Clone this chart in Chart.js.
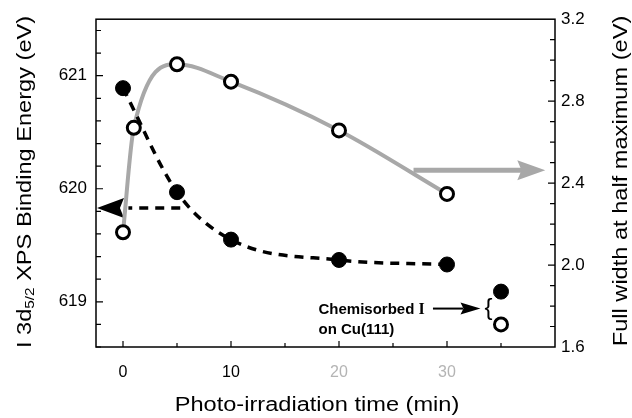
<!DOCTYPE html>
<html>
<head>
<meta charset="utf-8">
<script src="https://cdn.jsdelivr.net/npm/chart.js@4.4.1/dist/chart.umd.min.js"></script>
<style>
  html, body { margin: 0; padding: 0; background: #fff; }
  #wrap { width: 632px; height: 418px; }
</style>
</head>
<body>
<div id="wrap"><canvas id="chart" width="632" height="418"></canvas></div>
<script>
// Values
const timeMin = [0, 5, 10, 20, 30];
const bindingEnergy = [620.89, 619.97, 619.55, 619.37, 619.33];
const fwhmTime = [0, 1, 5, 10, 20, 30];
const fwhm = [2.16, 2.67, 2.98, 2.895, 2.657, 2.347];

// Chemisorbed I on Cu(111) reference values
const chemTime = [35];
const chemEnergy = [619.09];
const chemFwhm = [1.71];

// Tick labels
const xTicks = [0, 10, 20, 30];
const leftTicks = [619, 620, 621];
const rightTicks = [1.6, 2.0, 2.4, 2.8, 3.2];

const FONT = "'Liberation Sans', Arial, sans-serif";
const TITLE_STRETCH = 1.18;

function toPoints(xs, ys) {
    return xs.map((x, i) => ({ x: x, y: ys[i] }));
}

function arrowHead(ctx, tipX, tipY, dir, len, half) {
    ctx.beginPath();
    ctx.moveTo(tipX, tipY);
    ctx.lineTo(tipX - dir * len, tipY - half);
    ctx.lineTo(tipX - dir * len * 0.85, tipY);
    ctx.lineTo(tipX - dir * len, tipY + half);
    ctx.closePath();
    ctx.fill();
}

// draws text pieces centred on 0,0 in the current frame, stretched along the text
function drawStretched(ctx, parts) {
    let total = 0;
    parts.forEach(p => { ctx.font = p.f; p.w = ctx.measureText(p.t).width; total += p.w; });
    ctx.save();
    ctx.scale(TITLE_STRETCH, 1);
    ctx.textBaseline = 'middle';
    ctx.textAlign = 'left';
    let cx = -total / 2;
    parts.forEach(p => { ctx.font = p.f; ctx.fillText(p.t, cx, p.dy || 0); cx += p.w; });
    ctx.restore();
}

/**
 * Frame, inward ticks and axis titles
 */
const frameAndTitles = {
    id: 'frameAndTitles',
    afterDraw(chart) {
        const { ctx, chartArea: a, scales } = chart;
        ctx.save();
        ctx.strokeStyle = '#000';
        ctx.lineWidth = 1.5;
        ctx.strokeRect(a.left, a.top, a.right - a.left, a.bottom - a.top);

        ctx.lineWidth = 1.2;
        ctx.beginPath();
        // x ticks every 5 min
        for (let v = 0; v <= 35; v += 5) {
            const px = scales.x.getPixelForValue(v);
            const len = v % 10 === 0 ? 6 : 4;
            ctx.moveTo(px, a.bottom);
            ctx.lineTo(px, a.bottom - len);
        }
        // left ticks every 0.2 eV
        for (let i = 0; i <= 14; i++) {
            const v = 618.6 + i * 0.2;
            const py = scales.y.getPixelForValue(v);
            const len = Math.abs(v - Math.round(v)) < 0.01 ? 7 : 5;
            ctx.moveTo(a.left, py);
            ctx.lineTo(a.left + len, py);
        }
        // right ticks every 0.1 eV
        for (let i = 1; i < 16; i++) {
            const v = 1.6 + i * 0.1;
            const py = scales.y1.getPixelForValue(v);
            const len = i % 4 === 0 ? 7 : 5;
            ctx.moveTo(a.right, py);
            ctx.lineTo(a.right - len, py);
        }
        ctx.stroke();

        ctx.fillStyle = '#000';
        // left title with subscript
        ctx.save();
        ctx.translate(25, 182);
        ctx.rotate(-Math.PI / 2);
        drawStretched(ctx, [
            { t: 'I 3d', f: '20px ' + FONT },
            { t: '5/2', f: '13px ' + FONT, dy: 5 },
            { t: ' XPS Binding Energy (eV)', f: '20px ' + FONT }
        ]);
        ctx.restore();

        // right title
        ctx.save();
        ctx.translate(621, 181);
        ctx.rotate(-Math.PI / 2);
        drawStretched(ctx, [{ t: 'Full width at half maximum (eV)', f: '20px ' + FONT }]);
        ctx.restore();

        // bottom title
        ctx.save();
        ctx.translate(317, 405);
        drawStretched(ctx, [{ t: 'Photo-irradiation time (min)', f: '20px ' + FONT }]);
        ctx.restore();
        ctx.restore();
    }
};

/**
 * Arrows and the chemisorbed note
 */
const notes = {
    id: 'notes',
    beforeDatasetsDraw(chart) {
        const { ctx, scales } = chart;
        const x = scales.x, y = scales.y, y1 = scales.y1;
        ctx.save();

        // black arrow pointing to the left axis
        const ly = y.getPixelForValue(619.83);
        ctx.strokeStyle = '#000';
        ctx.lineWidth = 3.5;
        ctx.setLineDash([9, 7]);
        ctx.beginPath();
        ctx.moveTo(x.getPixelForValue(5.3), ly);
        ctx.lineTo(x.getPixelForValue(0.5), ly);
        ctx.stroke();
        ctx.setLineDash([]);
        ctx.fillStyle = '#000';
        arrowHead(ctx, x.getPixelForValue(-2.5) + 1, ly, -1, 27, 10);

        // grey arrow pointing to the right axis
        const gy = y1.getPixelForValue(2.463);
        ctx.strokeStyle = '#a8a8a8';
        ctx.fillStyle = '#a8a8a8';
        ctx.lineWidth = 5;
        ctx.beginPath();
        ctx.moveTo(x.getPixelForValue(26.9), gy);
        ctx.lineTo(x.getPixelForValue(37), gy);
        ctx.stroke();
        arrowHead(ctx, x.getPixelForValue(39.1), gy, 1, 28, 10);

        // chemisorbed note
        const cy = y.getPixelForValue(618.94);
        ctx.strokeStyle = '#000';
        ctx.fillStyle = '#000';
        ctx.lineWidth = 2;
        ctx.beginPath();
        ctx.moveTo(x.getPixelForValue(28.7), cy);
        ctx.lineTo(x.getPixelForValue(31.5), cy);
        ctx.stroke();
        arrowHead(ctx, x.getPixelForValue(33.1), cy, 1, 20, 6);

        const tx = x.getPixelForValue(18.1);
        ctx.textAlign = 'left';
        ctx.textBaseline = 'middle';
        ctx.font = 'bold 15px ' + FONT;
        const word = 'Chemisorbed ';
        ctx.fillText(word, tx, y.getPixelForValue(618.93));
        const ww = ctx.measureText(word).width;
        ctx.font = "bold 16px 'Liberation Serif', 'Times New Roman', serif";
        ctx.fillText('I', tx + ww, y.getPixelForValue(618.93));
        ctx.font = 'bold 15px ' + FONT;
        ctx.fillText('on Cu(111)', tx, y.getPixelForValue(618.75));

        ctx.font = '24px ' + FONT;
        ctx.textAlign = 'center';
        ctx.fillText('{', x.getPixelForValue(33.85), cy);
        ctx.restore();
    }
};

const ctx = document.getElementById('chart').getContext('2d');

new Chart(ctx, {
    type: 'scatter',
    data: {
        datasets: [
            {
                // dashed curve through binding energies
                data: toPoints(timeMin, bindingEnergy),
                yAxisID: 'y',
                showLine: true,
                borderColor: '#000',
                borderWidth: 3.5,
                borderDash: [9, 7],
                cubicInterpolationMode: 'monotone',
                pointRadius: 0,
                order: 3
            },
            {
                // grey curve through FWHM
                data: toPoints(fwhmTime, fwhm),
                yAxisID: 'y1',
                showLine: true,
                borderColor: '#a8a8a8',
                borderWidth: 4,
                cubicInterpolationMode: 'monotone',
                pointRadius: 0,
                order: 4
            },
            {
                data: toPoints(timeMin, bindingEnergy).concat(toPoints(chemTime, chemEnergy)),
                yAxisID: 'y',
                pointRadius: 7.5,
                pointBackgroundColor: '#000',
                pointBorderColor: '#000',
                pointBorderWidth: 1,
                order: 1
            },
            {
                data: toPoints(fwhmTime, fwhm).concat(toPoints(chemTime, chemFwhm)),
                yAxisID: 'y1',
                pointRadius: 6.5,
                pointBackgroundColor: '#fff',
                pointBorderColor: '#000',
                pointBorderWidth: 3,
                order: 0
            }
        ]
    },
    options: {
        responsive: false,
        animation: false,
        layout: { padding: { top: 17, left: 0, right: 0, bottom: 0 } },
        plugins: {
            legend: { display: false },
            tooltip: { enabled: false }
        },
        scales: {
            x: {
                type: 'linear',
                min: -2.5,
                max: 40,
                afterBuildTicks: s => { s.ticks = xTicks.map(v => ({ value: v })); },
                afterFit: s => { s.height = 71; },
                grid: { display: false, drawTicks: false },
                border: { display: false },
                ticks: {
                    padding: 16,
                    font: { family: FONT, size: 16 },
                    color: c => (c.tick && c.tick.value >= 20 ? '#b4b4b4' : '#000')
                }
            },
            y: {
                position: 'left',
                min: 618.6,
                max: 621.5,
                afterBuildTicks: s => { s.ticks = leftTicks.map(v => ({ value: v })); },
                afterFit: s => { s.width = 96; },
                grid: { display: false, drawTicks: false },
                border: { display: false },
                ticks: {
                    padding: 9,
                    font: { family: FONT, size: 17 },
                    color: '#000'
                }
            },
            y1: {
                position: 'right',
                min: 1.6,
                max: 3.2,
                afterBuildTicks: s => { s.ticks = rightTicks.map(v => ({ value: v })); },
                afterFit: s => { s.width = 77; },
                grid: { display: false, drawTicks: false },
                border: { display: false },
                ticks: {
                    padding: 6,
                    font: { family: FONT, size: 17 },
                    color: '#000',
                    callback: v => v.toFixed(1)
                }
            }
        }
    },
    plugins: [notes, frameAndTitles]
});
</script>
</body>
</html>
